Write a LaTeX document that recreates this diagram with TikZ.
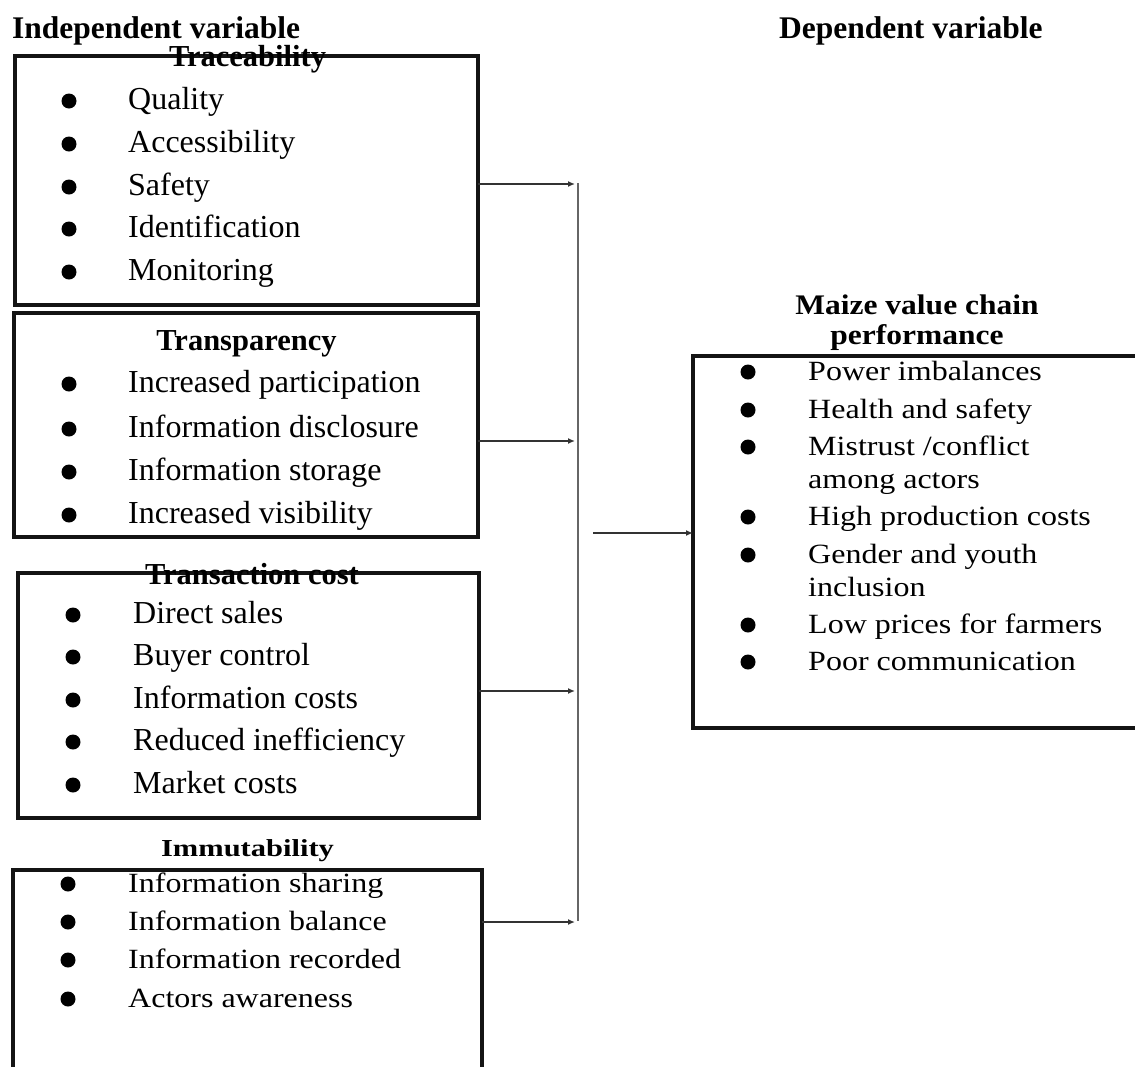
\documentclass[tikz,border=0pt]{standalone}
\usepackage{fontspec}
\setmainfont{Liberation Serif}
\usetikzlibrary{arrows.meta}
\tikzset{
  boxline/.style={draw=black!92, line width=4.5pt, line join=miter},
  boxnode/.style={boxline, inner sep=0pt, outer sep=0pt},
  openbox/.style={inner sep=0pt, outer sep=0pt},
  titletext/.style={font=\fontsize{31.5}{36}\selectfont\bfseries, inner sep=0pt, anchor=base west},
  headtext/.style={font=\fontsize{30.5}{36}\selectfont\bfseries, inner sep=0pt, anchor=base},
  itemtext/.style={font=\fontsize{32}{38}\selectfont, inner sep=0pt, anchor=base west},
  dot/.style={circle, fill=black, inner sep=0pt, minimum size=15pt},
  conn/.style={draw=black!80, line width=2pt, -{Latex[length=7pt,width=6pt]}},
  busline/.style={draw=black!60, line width=1.6pt},
}
\begin{document}
\begin{tikzpicture}[x=1pt,y=-1pt]
\useasboundingbox[fill=white] (0,0) rectangle (1135,1066);

% titles
\node[titletext] (indep) at (12,38) {Independent variable};
\node[titletext] (dep) at (779,38) {Dependent variable};

% box 1: Traceability
\node[boxnode, minimum width=463pt, minimum height=249pt] (b1) at (246.5,180.5) {};
\node[headtext] (h1) at (247.5,66) {Traceability};
\foreach \t/\y [count=\i] in {Quality/109, Accessibility/152, Safety/195, Identification/237, Monitoring/280} {
  \node[dot] (b1d\i) at (69,\y-8) {};
  \node[itemtext] (b1t\i) at (128,\y) {\t};
}

% box 2: Transparency
\node[boxnode, minimum width=464pt, minimum height=224pt] (b2) at (246,425) {};
\node[headtext] (h2) at (246.5,350) {Transparency};
\foreach \t/\y [count=\i] in {Increased participation/392, Information disclosure/437, Information storage/480, Increased visibility/523} {
  \node[dot] (b2d\i) at (69,\y-8) {};
  \node[itemtext] (b2t\i) at (128,\y) {\t};
}

% box 3: Transaction cost
\node[boxnode, minimum width=461pt, minimum height=245pt] (b3) at (248.5,695.5) {};
\node[headtext] (h3) at (252,584) {Transaction cost};
\foreach \t/\y [count=\i] in {Direct sales/623, Buyer control/665, Information costs/708, Reduced inefficiency/750, Market costs/793} {
  \node[dot] (b3d\i) at (73,\y-8) {};
  \node[itemtext] (b3t\i) at (133,\y) {\t};
}

% box 4: Immutability (open at the bottom)
\node[openbox, minimum width=469pt, minimum height=210pt] (b4) at (247.5,975) {};
\draw[boxline] (b4.south west) -- (b4.north west) -- (b4.north east) -- (b4.south east);
\node[headtext] (h4) at (247.5,856) {\scalebox{1}[0.8]{Immutability}};
\foreach \t/\y [count=\i] in {Information sharing/892, Information balance/930, Information recorded/968, Actors awareness/1007} {
  \node[dot] (b4d\i) at (68,\y-8) {};
  \node[itemtext] (b4t\i) at (128,\y) {\scalebox{1}[0.87]{\t}};
}

% right box: Maize value chain performance (open at the right)
\node[openbox, minimum width=460pt, minimum height=372pt] (rb) at (923,542) {};
\draw[boxline] (rb.north east) -- (rb.north west) -- (rb.south west) -- (rb.south east);
\node[headtext, font=\fontsize{31.5}{36}\selectfont\bfseries] (rh1) at (917,314) {\scalebox{1}[0.9]{Maize value chain}};
\node[headtext, font=\fontsize{31.5}{36}\selectfont\bfseries] (rh2) at (917,344) {\scalebox{1}[0.9]{performance}};
\foreach \t/\y [count=\i] in {Power imbalances/380, Health and safety/418, {Mistrust /conflict}/455, High production costs/525, Gender and youth/563, Low prices for farmers/633, Poor communication/670} {
  \node[dot] (rd\i) at (748,\y-8) {};
  \node[itemtext] (rt\i) at (808,\y) {\scalebox{1}[0.87]{\t}};
}
\node[itemtext] (rt3b) at (808,488) {\scalebox{1}[0.87]{among actors}};
\node[itemtext] (rt5b) at (808,596) {\scalebox{1}[0.87]{inclusion}};

% connectors
\coordinate (j1) at (575,184);
\coordinate (j2) at (575,441);
\coordinate (j3) at (575,691);
\coordinate (j4) at (575,922);
\coordinate (vtop) at (578,183);
\coordinate (vbot) at (578,921);
\coordinate (rstart) at (593,533);

\draw[conn] (b1.east |- j1) -- (j1);
\draw[conn] (b2.east |- j2) -- (j2);
\draw[conn] (b3.east |- j3) -- (j3);
\draw[conn] (b4.east |- j4) -- (j4);
\draw[busline] (vtop) -- (vbot);
\draw[conn] (rstart) -- (rb.west |- rstart);
\end{tikzpicture}
\end{document}
